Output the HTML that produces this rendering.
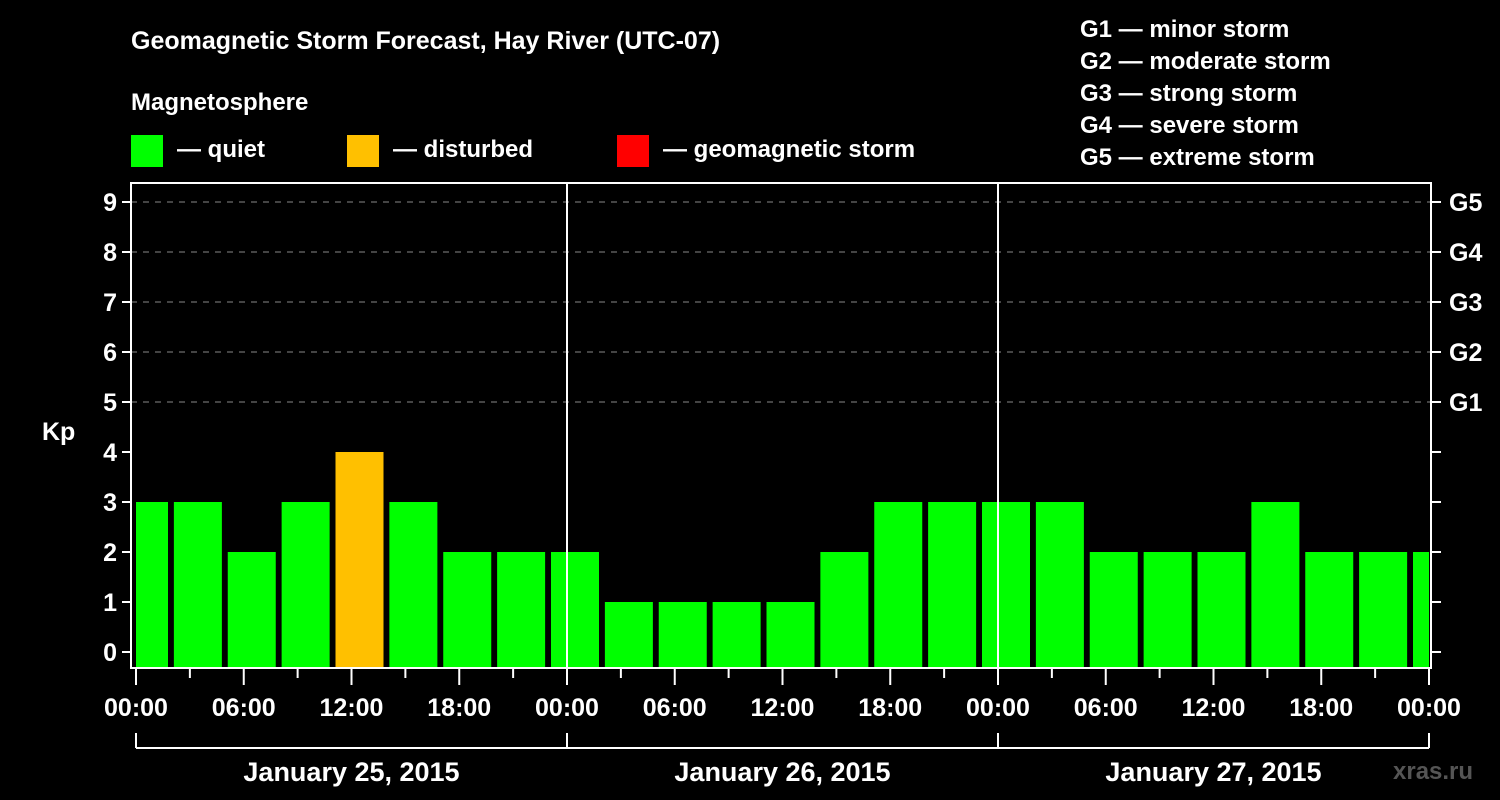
<!DOCTYPE html>
<html><head><meta charset="utf-8"><style>
body{margin:0;background:#000;}
svg{display:block;font-family:"Liberation Sans",Arial,sans-serif;font-weight:bold;}
</style></head><body>
<svg id="chart" width="1500" height="800" viewBox="0 0 1500 800">
<rect width="1500" height="800" fill="#000"/>
<text x="131" y="49" fill="#fff" font-size="25">Geomagnetic Storm Forecast, Hay River (UTC-07)</text>
<text x="131" y="110" fill="#fff" font-size="24">Magnetosphere</text>
<g><rect x="131" y="135" width="32" height="32" fill="#00ff00"/><text x="177" y="157" fill="#fff" font-size="24">— quiet</text></g>
<g><rect x="347" y="135" width="32" height="32" fill="#ffc000"/><text x="393" y="157" fill="#fff" font-size="24">— disturbed</text></g>
<g><rect x="617" y="135" width="32" height="32" fill="#ff0000"/><text x="663" y="157" fill="#fff" font-size="24">— geomagnetic storm</text></g>
<g fill="#fff" font-size="24">
<text x="1080" y="37">G1 — minor storm</text>
<text x="1080" y="69">G2 — moderate storm</text>
<text x="1080" y="101">G3 — strong storm</text>
<text x="1080" y="133">G4 — severe storm</text>
<text x="1080" y="165">G5 — extreme storm</text>
</g>
<text x="42" y="440" fill="#fff" font-size="25">Kp</text>
<g id="grid"></g>
<g id="bars"></g>
<g id="axes"></g>
<text x="1393" y="779" fill="#555" font-size="24">xras.ru</text>
</svg>
<script>
const kpValues=[3,3,2,3,4,3,2,2,2,1,1,1,1,2,3,3,3,3,2,2,2,3,2,2,2];
const yTicks=[0,1,2,3,4,5,6,7,8,9];
const gLabels=["G1","G2","G3","G4","G5"];
const gLevels=[5,6,7,8,9];
const xTickLabels=["00:00","06:00","12:00","18:00","00:00","06:00","12:00","18:00","00:00","06:00","12:00","18:00","00:00"];
const dayLabels=["January 25, 2015","January 26, 2015","January 27, 2015"];
const NS="http://www.w3.org/2000/svg";
const L=131,R=1431,T=183,B=668,X0=136,X1=1429,HOURS=72;
const x=h=>X0+h*(X1-X0)/HOURS;
const y=v=>652-50*v;
function mk(tag,attrs,parent){const e=document.createElementNS(NS,tag);for(const k in attrs)e.setAttribute(k,attrs[k]);parent.appendChild(e);return e;}
const grid=document.getElementById('grid'),bars=document.getElementById('bars'),axes=document.getElementById('axes');
gLevels.forEach(v=>{const l=mk('line',{x1:L,x2:R,y1:y(v),y2:y(v),stroke:'#888','stroke-dasharray':'6 6','stroke-width':1},grid);

});
kpValues.forEach((v,k)=>{
 const c=x(3*k);let a=Math.max(c-16,X0),b=Math.min(c+32,X1);
 const col=v>=5?'#ff0000':(v>=4?'#ffc000':'#00ff00');
 const r=mk('rect',{x:a,y:y(v),width:b-a,height:B-y(v),fill:col},bars);
 
 
});
const fr=mk('rect',{x:L,y:T,width:R-L,height:B-T,fill:'none',stroke:'#fff','stroke-width':2},axes);


[24,48].forEach(h=>{mk('line',{x1:x(h),x2:x(h),y1:T,y2:B,stroke:'#fff','stroke-width':2},axes);});
yTicks.forEach(v=>{
 mk('line',{x1:L-9,x2:L,y1:y(v),y2:y(v),stroke:'#fff','stroke-width':2},axes);
 mk('line',{x1:R,x2:R+10,y1:y(v),y2:y(v),stroke:'#fff','stroke-width':2},axes);
 const t=mk('text',{x:L-14,y:y(v)+9,fill:'#fff','font-size':25,'text-anchor':'end'},axes);t.textContent=v;
 
 
});
gLabels.forEach((g,i)=>{const t=mk('text',{x:1449,y:y(gLevels[i])+9,fill:'#fff','font-size':25},axes);t.textContent=g;
 
 });
for(let h=0;h<=72;h+=3){mk('line',{x1:x(h),x2:x(h),y1:B,y2:h%6==0?685:678,stroke:'#fff','stroke-width':2},axes);}
xTickLabels.forEach((s,i)=>{const t=mk('text',{x:x(6*i),y:716,fill:'#fff','font-size':25,'text-anchor':'middle'},axes);t.textContent=s;
 
 });
mk('line',{x1:X0,x2:X1,y1:748,y2:748,stroke:'#fff','stroke-width':2},axes);
[0,24,48,72].forEach(h=>mk('line',{x1:x(h),x2:x(h),y1:733,y2:748,stroke:'#fff','stroke-width':2},axes));
dayLabels.forEach((s,i)=>{const t=mk('text',{x:x(24*i+12),y:781,fill:'#fff','font-size':27,'text-anchor':'middle'},axes);t.textContent=s;
 
 });
</script>
</body></html>
